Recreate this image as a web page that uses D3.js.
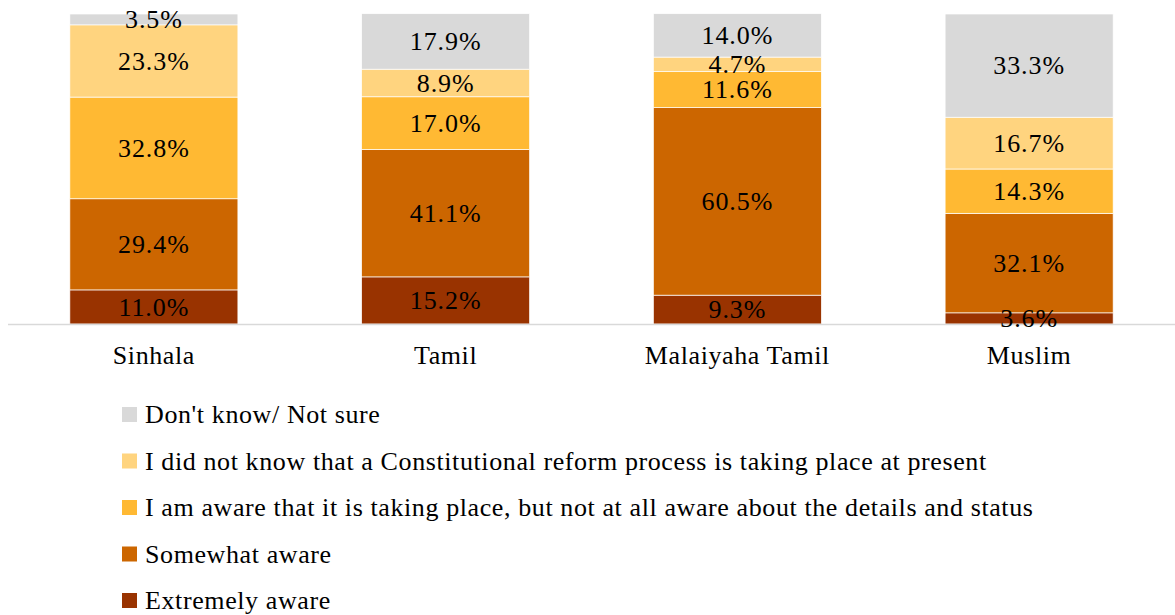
<!DOCTYPE html>
<html>
<head>
<meta charset="utf-8">
<script src="https://cdn.jsdelivr.net/npm/d3@7"></script>
<style>
  body { margin: 0; background: #fff; }
  svg text { font-family: "Liberation Serif", "Times New Roman", serif; fill: #000; }
</style>
</head>
<body>
<svg id="chart" width="1175" height="615"></svg>
<script>
// categories and series (bottom of stack first)
const groups = ["Sinhala", "Tamil", "Malaiyaha Tamil", "Muslim"];
const seriesNames = [
    "Extremely aware",
    "Somewhat aware",
    "I am aware that it is taking place, but not at all aware about the details and status",
    "I did not know that a Constitutional reform process is taking place at present",
    "Don't know/ Not sure"
];
const extremely   = [11.0, 15.2, 9.3, 3.6];
const somewhat    = [29.4, 41.1, 60.5, 32.1];
const awareNoInfo = [32.8, 17.0, 11.6, 14.3];
const didNotKnow  = [23.3, 8.9, 4.7, 16.7];
const dontKnow    = [3.5, 17.9, 14.0, 33.3];
const colors = ["#993300", "#CC6600", "#FFB933", "#FFD47F", "#D9D9D9"];

const allValues = [extremely, somewhat, awareNoInfo, didNotKnow, dontKnow];

const rows = groups.map((g, i) => {
    let r = { group: g };
    seriesNames.forEach((s, j) => r[s] = allValues[j][i]);
    return r;
});

const svg = d3.select("#chart");

const x = d3.scaleBand()
    .domain(groups)
    .range([8, 1175])
    .paddingInner(0.424)
    .paddingOuter(0.212);

const y = d3.scaleLinear()
    .domain([0, 100])
    .range([324, 14]);

const color = d3.scaleOrdinal().domain(seriesNames).range(colors);

const stacked = d3.stack().keys(seriesNames)(rows);

const layer = svg.append("g").selectAll("g")
    .data(stacked)
    .join("g")
    .attr("fill", d => color(d.key));

layer.selectAll("rect")
    .data(d => d)
    .join("rect")
    .attr("x", d => x(d.data.group))
    .attr("y", d => y(d[1]))
    .attr("width", x.bandwidth())
    .attr("height", d => y(d[0]) - y(d[1]))
    .attr("stroke", "#fff")
    .attr("stroke-width", 0.7);

// baseline
svg.append("line")
    .attr("x1", 8).attr("x2", 1175)
    .attr("y1", y(0) + 0.5).attr("y2", y(0) + 0.5)
    .attr("stroke", "#D9D9D9")
    .attr("stroke-width", 1.5);

// value labels, drawn on top of every segment
const labelData = stacked.flatMap(s => s);
svg.append("g").selectAll("text")
    .data(labelData)
    .join("text")
    .attr("x", d => x(d.data.group) + x.bandwidth() / 2)
    .attr("y", d => (y(d[0]) + y(d[1])) / 2)
    .attr("dy", "0.34em")
    .attr("text-anchor", "middle")
    .style("font-size", "26px")
    .style("letter-spacing", "0.9px")
    .text(d => (d[1] - d[0]).toFixed(1) + "%");

// category labels
svg.append("g").selectAll("text")
    .data(groups)
    .join("text")
    .attr("x", d => x(d) + x.bandwidth() / 2)
    .attr("y", 364)
    .attr("text-anchor", "middle")
    .style("font-size", "26px")
    .style("letter-spacing", "0.6px")
    .text(d => d);

// legend (top item is last series)
const legendItems = seriesNames.slice().reverse();
const legend = svg.append("g").selectAll("g")
    .data(legendItems)
    .join("g")
    .attr("transform", (d, i) => `translate(122, ${414 + i * 46.5})`);

legend.append("rect")
    .attr("x", 0).attr("y", -7)
    .attr("width", 15).attr("height", 15)
    .attr("fill", d => color(d));

legend.append("text")
    .attr("x", 23)
    .attr("y", 0)
    .attr("dy", "0.35em")
    .style("font-size", "26px")
    .style("letter-spacing", "0.6px")
    .text(d => d);
</script>
</body>
</html>
